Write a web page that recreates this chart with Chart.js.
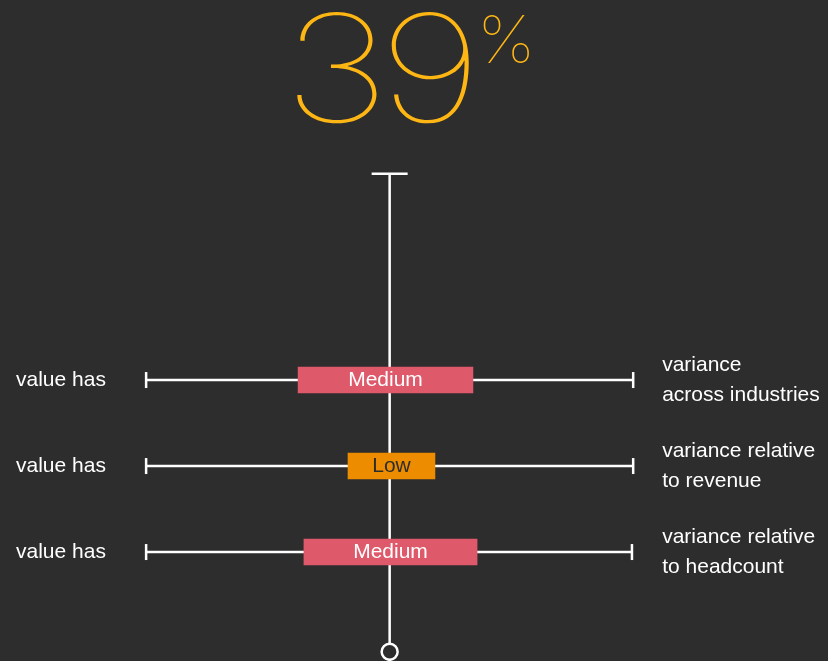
<!DOCTYPE html>
<html>
<head>
<meta charset="utf-8">
<script src="https://cdn.jsdelivr.net/npm/chart.js@4"></script>
<style>
  html, body { margin: 0; padding: 0; background: #2d2d2d; width: 828px; height: 661px; overflow: hidden; }
  .headline { position: absolute; color: #fdb614; font-family: Inter, Roboto, sans-serif; font-weight: 100; line-height: 1; white-space: nowrap; }
  #value { left: 283px; top: -6px; font-size: 149px; letter-spacing: -9px; transform: scaleX(1.23); transform-origin: left top; }
  #pct { left: 477px; top: 6px; font-size: 66px; transform: scaleX(1.05); transform-origin: left top; }
  #chart { position: absolute; left: 0; top: 0; }
</style>
</head>
<body>
<div id="value" class="headline"></div>
<div id="pct" class="headline">%</div>
<canvas id="chart" width="828" height="661"></canvas>
<script>
// headline value
var headlineValue = 39;

// rows of the ladder
var rowPositions = [1, 2, 3];
var levels = ['Medium', 'Low', 'Medium'];
var boxStart = [-37.6, -17.1, -35.2];
var boxEnd = [34.2, 18.6, 35.9];
var rangeStart = [-100, -100, -100];
var rangeEnd = [100, 100, 99.5];
var leftLabels = ['value has', 'value has', 'value has'];
var rightLabels = [
    ['variance', 'across industries'],
    ['variance relative', 'to revenue'],
    ['variance relative', 'to headcount']
];

// vertical axis ends
var axisTop = -1.4;
var axisBottom = 4.16;

var levelColors = { Medium: '#de5a6b', Low: '#ee8c00' };
var levelText = { Medium: '#ffffff', Low: '#2d2d2d' };
var bg = '#2d2d2d';

document.getElementById('value').textContent = headlineValue;

var ctx = document.getElementById('chart');

var datasets = [];

// the vertical spine: T cap at the top, open circle at the bottom
datasets.push({
    type: 'line',
    data: [{ x: 0, y: axisTop }, { x: 0, y: axisBottom }],
    borderColor: '#ffffff',
    borderWidth: 2.5,
    pointStyle: ['line', 'circle'],
    pointRadius: [18, 8],
    pointBorderWidth: 2.5,
    pointBorderColor: '#ffffff',
    pointBackgroundColor: bg,
    clip: false,
    order: 3
});

// whiskers for each row
rowPositions.forEach(function (row, i) {
    datasets.push({
        type: 'line',
        data: [{ x: rangeStart[i], y: row }, { x: rangeEnd[i], y: row }],
        borderColor: '#ffffff',
        borderWidth: 2.5,
        pointStyle: 'line',
        pointRotation: 90,
        pointRadius: 8,
        pointBorderWidth: 2.5,
        pointBorderColor: '#ffffff',
        order: 2
    });
});

// level boxes
datasets.push({
    type: 'bar',
    indexAxis: 'y',
    data: rowPositions.map(function (row, i) {
        return { x: [boxStart[i], boxEnd[i]], y: row };
    }),
    backgroundColor: levels.map(function (l) { return levelColors[l]; }),
    borderWidth: 0,
    barThickness: 26,
    order: 1
});

var labelPlugin = {
    id: 'labels',
    afterDatasetsDraw: function (chart) {
        var c = chart.ctx;
        var xs = chart.scales.x;
        var ys = chart.scales.y;
        c.save();
        c.font = '21px "Liberation Sans", Arial, sans-serif';
        c.textBaseline = 'middle';
        rowPositions.forEach(function (row, i) {
            var y = ys.getPixelForValue(row);
            // left label
            c.fillStyle = '#ffffff';
            c.textAlign = 'left';
            c.fillText(leftLabels[i], 16, y);
            // box label
            c.textAlign = 'center';
            c.fillStyle = levelText[levels[i]];
            c.fillText(levels[i], xs.getPixelForValue((boxStart[i] + boxEnd[i]) / 2), y);
            // right label, two lines
            c.textAlign = 'left';
            c.fillStyle = '#ffffff';
            var rx = xs.getPixelForValue(100) + 29;
            var lines = rightLabels[i];
            lines.forEach(function (txt, j) {
                c.fillText(txt, rx, y + (j - (lines.length - 1) / 2) * 29.5);
            });
        });
        c.restore();
    }
};

new Chart(ctx, {
    type: 'bar',
    data: { datasets: datasets },
    options: {
        responsive: false,
        animation: false,
        layout: { padding: 0, autoPadding: false },
        scales: {
            x: { type: 'linear', display: false, offset: false, min: -160, max: 180 },
            y: { type: 'linear', display: false, offset: false, min: -3.419, max: 4.267, reverse: true }
        },
        plugins: {
            legend: { display: false },
            tooltip: { enabled: false }
        }
    },
    plugins: [labelPlugin]
});
</script>
</body>
</html>
